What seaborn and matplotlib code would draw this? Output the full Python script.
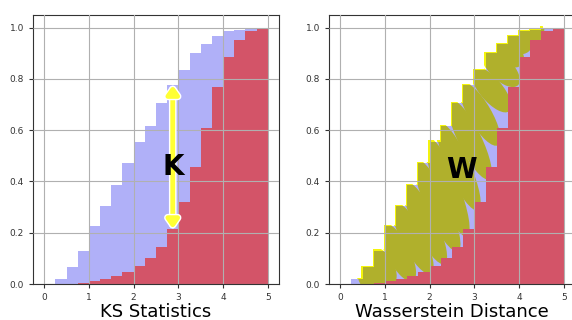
import matplotlib
matplotlib.use("Agg")
import matplotlib.pyplot as plt
import matplotlib.transforms as mtransforms
import matplotlib.patheffects as pe
from matplotlib.patches import Ellipse
import seaborn as sns
import numpy as np
import pandas as pd

# cumulative fractions per bin (bins of 0.25 from 0 to 5)
edges = [0.0, 0.25, 0.5, 0.75, 1.0, 1.25, 1.5, 1.75, 2.0, 2.25, 2.5,
         2.75, 3.0, 3.25, 3.5, 3.75, 4.0, 4.25, 4.5, 4.75, 5.0]
blue_cdf = [0.0, 0.02, 0.065, 0.13, 0.225, 0.305, 0.385, 0.47, 0.555, 0.615,
            0.705, 0.775, 0.835, 0.90, 0.935, 0.965, 0.985, 0.99, 1.0, 1.0]
red_cdf = [0.0, 0.0, 0.0, 0.003, 0.01, 0.018, 0.03, 0.047, 0.072, 0.10,
           0.145, 0.215, 0.32, 0.455, 0.61, 0.77, 0.885, 0.95, 0.985, 1.0]

# KS arrow (largest vertical gap)
ks_x = 2.875
ks_lo, ks_hi = 0.215, 0.775

# Wasserstein transport blobs: from a blue step corner to a point near the red curve
w_x0 = [0.5, 0.75, 1.0, 1.25, 1.5, 1.75, 2.0, 2.25, 2.5, 2.75, 3.0, 3.25, 3.5, 3.75, 4.0, 4.25]
w_y0 = [0.065, 0.13, 0.225, 0.305, 0.385, 0.47, 0.555, 0.615, 0.705, 0.775, 0.835, 0.90, 0.935, 0.965, 0.985, 0.99]
w_x1 = [0.85, 1.15, 1.6, 2.0, 2.3, 2.6, 2.8, 3.05, 3.3, 3.5, 3.75, 3.95, 4.05, 4.25, 4.4, 4.55]
w_y1 = [-0.02, 0.0, 0.02, 0.05, 0.09, 0.14, 0.2, 0.3, 0.42, 0.55, 0.68, 0.78, 0.86, 0.92, 0.955, 0.985]

df = pd.DataFrame({"left": edges[:-1], "blue": blue_cdf, "red": red_cdf})

fig = plt.figure(figsize=(5.72, 3.2), dpi=100)
ax1 = fig.add_axes([0.0577, 0.1125, 0.430, 0.8416])
ax2 = fig.add_axes([0.5752, 0.1125, 0.430, 0.8416])

for ax, lab in [(ax1, "KS Statistics"), (ax2, "Wasserstein Distance")]:
    sns.histplot(data=df, x="left", weights="blue", bins=edges, element="step",
                 fill=True, color="#b0b0f8", alpha=1, linewidth=0, ax=ax, zorder=1)
    sns.histplot(data=df, x="left", weights="red", bins=edges, element="step",
                 fill=True, color="#d35468", alpha=1, linewidth=0, ax=ax, zorder=1.5)
    ax.set_xlim(-0.25, 5.25)
    ax.set_ylim(0, 1.05)
    ax.set_xticks(range(6))
    ax.set_yticks(np.arange(0, 1.01, 0.2))
    ax.set_yticklabels(["0.0", "0.2", "0.4", "0.6", "0.8", "1.0"])
    ax.grid(True, color="#b0b0b0", lw=0.8, zorder=2)
    ax.set_axisbelow(False)
    ax.tick_params(labelsize=6.5, length=3, colors="#333333")
    ax.set_xlabel(lab, fontsize=13, labelpad=1)
    ax.set_ylabel("")
    for s in ax.spines.values():
        s.set_color("#333333")

# KS panel
ax1.annotate("", xy=(ks_x, ks_hi), xytext=(ks_x, ks_lo),
             arrowprops=dict(arrowstyle="<|-|>,head_width=0.35,head_length=0.5",
                             color="#ffff33", lw=3.5, shrinkA=0, shrinkB=0,
                             path_effects=[pe.withStroke(linewidth=5.5, foreground="white")]),
             zorder=4)
ax1.text(2.88, 0.455, "K", fontsize=20, fontweight="bold", ha="center", va="center", zorder=5)

# Wasserstein panel: blobs clipped to the blue area
blue_path = ax2.collections[0].get_paths()[0]
width_px = 23
# yellow fringe sits below the blue fill, so it only peeks out past the blue edge
layers = [((-1.2, 1.2), "#f4f40c", 0.9),
          ((0, 0), "#b0b02c", 1.2)]
for x0, y0, x1, y1 in zip(w_x0, w_y0, w_x1, w_y1):
    p0 = ax2.transData.transform((x0, y0))
    p1 = ax2.transData.transform((x1, y1))
    d = p1 - p0
    length = np.hypot(*d) * 1.08
    ang = np.degrees(np.arctan2(d[1], d[0]))
    cx, cy = (x0 + x1) / 2, (y0 + y1) / 2
    for (dx, dy), col, z in layers:
        shift = mtransforms.Affine2D().translate(dx, dy)
        e = Ellipse((0, 0), length, width_px, angle=ang,
                    facecolor=col, edgecolor="none", zorder=z,
                    transform=shift + mtransforms.ScaledTranslation(cx, cy, ax2.transData))
        ax2.add_patch(e)
        e.set_clip_path(blue_path, ax2.transData + shift)
ax2.text(2.72, 0.444, "W", fontsize=20, fontweight="bold", ha="center", va="center", zorder=5)

fig.savefig("out.png", dpi=100)
